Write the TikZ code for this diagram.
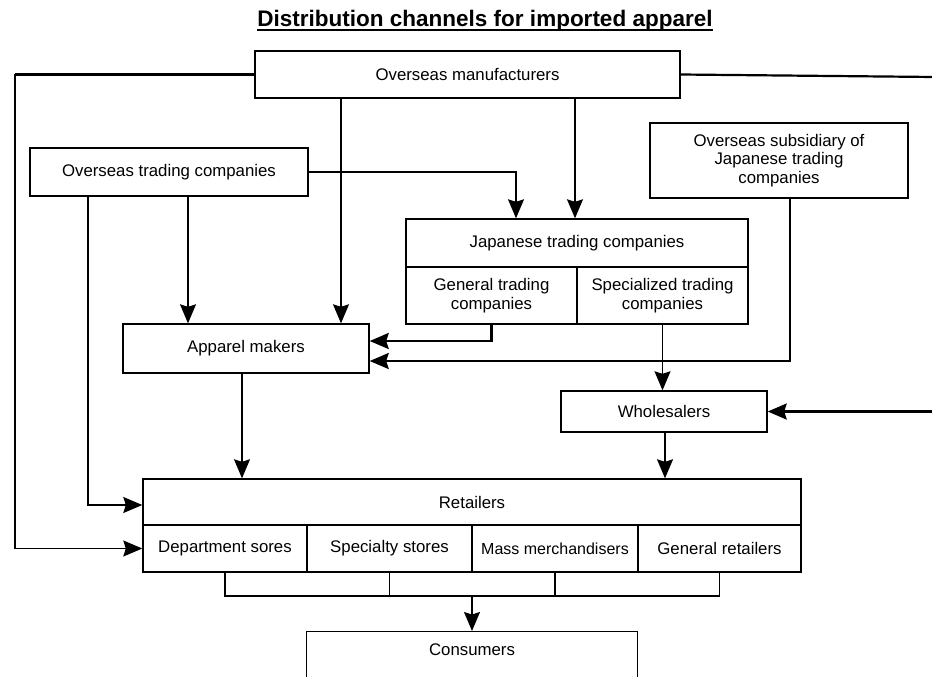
\documentclass[tikz,border=0pt]{standalone}
\usepackage{fontspec}
\setmainfont{Liberation Sans}
\usetikzlibrary{arrows.meta}
\tikzset{
  x=1pt, y=-1pt,
  every node/.style={font=\fontsize{16.8}{18.5}\selectfont},
  box/.style={draw, line width=1.4pt, inner sep=0pt, align=center},
  conn/.style={line width=1.3pt},
  thick conn/.style={line width=2.2pt},
  arr/.style={-{Stealth[length=19pt,width=16pt,inset=2.5pt]}},
}
\begin{document}
\begin{tikzpicture}
\useasboundingbox (0,0) rectangle (932,677);
% title
\node[anchor=base, inner sep=0pt, font=\fontsize{22.5}{25}\selectfont\bfseries] (title) at (485,27) {Distribution channels for imported apparel};
\draw[line width=1.5pt] ([yshift=-3pt]title.base west) -- ([yshift=-3pt]title.base east);

% boxes
\node[box, minimum width=425pt, minimum height=47pt] (mfr) at (467.5,74.5) {Overseas manufacturers};
\node[box, minimum width=278pt, minimum height=48pt] (otc) at (169,172) {Overseas trading companies};
\node[box, minimum width=258pt, minimum height=75pt] (sub) at (779,160.5) {Overseas subsidiary of\\Japanese trading\\companies};
\node[box, minimum width=342pt, minimum height=48pt] (jtc) at (577,243) {Japanese trading companies};
\node[box, minimum width=171pt, minimum height=57pt] (gtc) at (491.5,295.5) {General trading\\companies};
\node[box, minimum width=171pt, minimum height=57pt] (stc) at (662.5,295.5) {Specialized trading\\companies};
\node[box, minimum width=246pt, minimum height=49pt] (app) at (246,348.5) {Apparel makers};
\node[box, minimum width=206pt, minimum height=41pt] (whl) at (664,411.5) {Wholesalers};
\node[box, minimum width=658pt, minimum height=46pt] (ret) at (472,502) {Retailers};
\node[box, minimum width=164pt, minimum height=47pt] (dep) at (225,548.5) {Department sores};
\node[box, minimum width=165pt, minimum height=47pt] (spe) at (389.5,548.5) {Specialty stores};
\node[box, minimum width=166pt, minimum height=47pt, font=\fontsize{16}{18}\selectfont] (mas) at (555,548.5) {Mass merchandisers};
\node[box, minimum width=163pt, minimum height=47pt] (gen) at (719.5,548.5) {General retailers};
\node[box, minimum width=331pt, minimum height=70pt, anchor=north] (cons) at (472,631) {};
\node[inner sep=0pt] (constext) at (472,650) {Consumers};

% connectors
\draw[thick conn] (mfr.west) -- (15,0 |- mfr.west) coordinate (l1);
\draw[conn, arr] (l1) -- (15,0 |- dep.west) -- (dep.west);
\draw[thick conn] (mfr.east) -- (934,77) coordinate (r1);
\draw[thick conn, arr] (r1) -- (934,0 |- whl.east) -- (whl.east);
\draw[conn, arr] (341,0 |- mfr.south) -- (341,0 |- app.north);
\draw[conn, arr] (575,0 |- mfr.south) -- (575,0 |- jtc.north);
\draw[conn, arr] (otc.east) -- (516,0 |- otc.east) -- (516,0 |- jtc.north);
\draw[conn, arr] (88,0 |- otc.south) -- (88,505) -- (ret.west |- 88,505);
\draw[conn, arr] (188,0 |- otc.south) -- (188,0 |- app.north);
\draw[thick conn, arr] (790,0 |- sub.south) -- (790,361) -- (app.east |- 0,361);
\draw[thick conn, arr] (gtc.south) -- (491.5,341) -- (app.east |- 0,341);
\draw[conn, arr] (stc.south) -- (whl.north -| stc.south);
\draw[conn, arr] (242,0 |- app.south) -- (242,0 |- ret.north);
\draw[conn, arr] (665,0 |- whl.south) -- (665,0 |- ret.north);
% bracket
\coordinate (bl) at (225,596);
\coordinate (br) at (719.5,596);
\draw[conn] (dep.south) -- (bl) -- (br) -- (gen.south);
\draw[conn] (spe.south) -- (spe.south |- bl);
\draw[conn] (mas.south) -- (mas.south |- bl);
\draw[conn, arr] (472,596) -- (cons.north);
\end{tikzpicture}
\end{document}
